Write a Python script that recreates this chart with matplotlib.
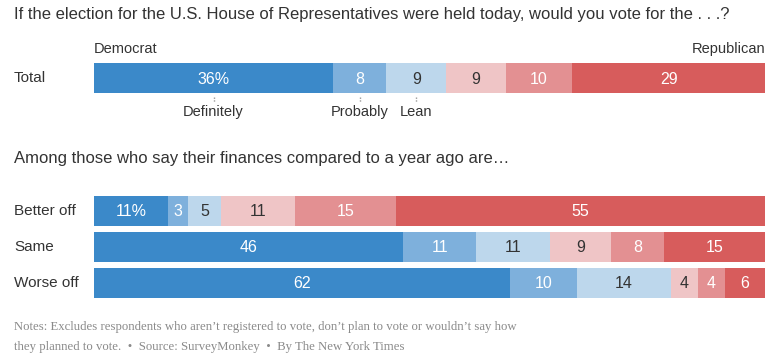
import matplotlib.pyplot as plt
import numpy as np

# data
rows = ["Total", "Better off", "Same", "Worse off"]
definitely_d = [36, 11, 46, 62]
probably_d = [8, 3, 11, 10]
lean_d = [9, 5, 11, 14]
lean_r = [9, 11, 9, 4]
probably_r = [10, 15, 8, 4]
definitely_r = [29, 55, 15, 6]
show_pct = [True, True, False, False]
segment_names = ["Definitely", "Probably", "Lean"]

colors = ["#3b89c9", "#7eb0dc", "#bdd7ec", "#efc5c6", "#e39092", "#d75c5c"]
text_colors = ["white", "white", "#333333", "#333333", "white", "white"]

plt.rcParams['font.family'] = ['Liberation Sans', 'DejaVu Sans']

W, H = 781, 364
fig = plt.figure(figsize=(W / 100, H / 100), dpi=100)
ax = fig.add_axes([0, 0, 1, 1])
ax.set_xlim(0, W)
ax.set_ylim(H, 0)
ax.axis('off')

x0, x1 = 94, 765
row_y = [78, 211, 247, 283]
bar_h = 30

values = np.array([definitely_d, probably_d, lean_d, lean_r, probably_r, definitely_r]).T

for i, name in enumerate(rows):
    vals = values[i]
    frac = vals / vals.sum()
    lefts = x0 + np.concatenate([[0], np.cumsum(frac)[:-1]]) * (x1 - x0)
    widths = frac * (x1 - x0)
    ax.barh(row_y[i], widths, left=lefts, height=bar_h, color=colors, linewidth=0)
    for j, v in enumerate(vals):
        label = f"{v}%" if (j == 0 and show_pct[i]) else str(v)
        ax.text(lefts[j] + widths[j] / 2, row_y[i] + 1, label, ha='center', va='center',
                color=text_colors[j], fontsize=11.5)
    ax.text(14, row_y[i], name, ha='left', va='center', color='#333333', fontsize=11)
    if i == 0:
        # tick marks and labels under the total bar
        for j, seg in enumerate(segment_names):
            cx = lefts[j] + widths[j] / 2
            ax.plot([cx, cx], [row_y[i] + 19, row_y[i] + 24], color='#999999',
                    linestyle=(0, (1, 1)), linewidth=1)
            ax.text(cx, row_y[i] + 34, seg, ha='center', va='center', color='#333333', fontsize=10.5)

ax.text(14, 15, "If the election for the U.S. House of Representatives were held today, would you vote for the . . .?",
        ha='left', va='center', color='#333333', fontsize=12)
ax.text(x0, 49, "Democrat", ha='left', va='center', color='#333333', fontsize=10.5)
ax.text(x1, 49, "Republican", ha='right', va='center', color='#333333', fontsize=10.5)
ax.text(14, 158, "Among those who say their finances compared to a year ago are\u2026",
        ha='left', va='center', color='#333333', fontsize=12)

note_kw = dict(ha='left', va='center', color='#8a8a8a', fontsize=9.2, family='Liberation Serif')
ax.text(14, 327, "Notes: Excludes respondents who aren\u2019t registered to vote, don\u2019t plan to vote or wouldn\u2019t say how",
        **note_kw)
ax.text(14, 347, "they planned to vote.  \u2022  Source: SurveyMonkey  \u2022  By The New York Times", **note_kw)

fig.savefig("out.png", dpi=100, facecolor='white')
